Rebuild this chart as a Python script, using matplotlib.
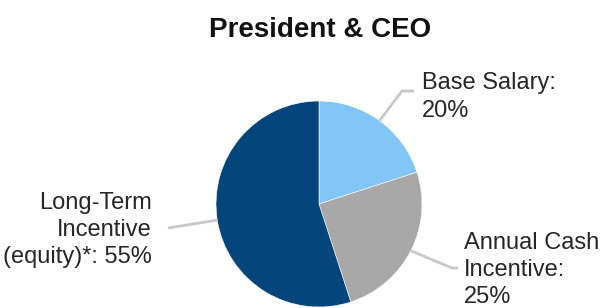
import matplotlib
matplotlib.use('agg')
import matplotlib.pyplot as plt
import numpy as np

# Pay mix data
labels = ['Base Salary:\n20%', 'Annual Cash\nIncentive:\n25%', 'Long-Term\nIncentive\n(equity)*: 55%']
values = [20, 25, 55]
colors = ['#82C6F7', '#A8A8A8', '#04467B']
title = 'President & CEO'

W, H = 603, 308
plt.rcParams['font.family'] = ['Liberation Sans', 'DejaVu Sans']

fig = plt.figure(figsize=(W / 100, H / 100), dpi=100)
ax = fig.add_axes([0, 0, 1, 1])

# pie in pixel-like coordinates (y measured up from bottom)
cx, cy, r = 319, H - 204, 103
wedges, _ = ax.pie(values, colors=colors, startangle=90, counterclock=False,
                   center=(cx, cy), radius=r, frame=True,
                   wedgeprops=dict(edgecolor='white', linewidth=0.4))
ax.set_xlim(0, W)
ax.set_ylim(0, H)
ax.set_aspect('equal')
ax.axis('off')

# leader lines start on the wedge edge at the mid angle
line_kw = dict(color='#C8C8C8', lw=2, solid_capstyle='butt')
text_kw = dict(fontsize=17, color='#262626', linespacing=1.3)

def edge_point(w):
    a = np.deg2rad((w.theta1 + w.theta2) / 2)
    return cx + r * np.cos(a), cy + r * np.sin(a)

x0, y0 = edge_point(wedges[0])
ax.plot([x0, 402, 414], [y0, H - 91, H - 91], **line_kw)
ax.text(422, H - 97, labels[0], ha='left', va='center', **text_kw)

x0, y0 = edge_point(wedges[1])
ax.plot([x0, 452, 458], [y0, H - 268, H - 268], **line_kw)
ax.text(464, H - 270, labels[1], ha='left', va='center', **text_kw)

x0, y0 = edge_point(wedges[2])
ax.plot([x0, 168], [y0, H - 228], **line_kw)
ax.text(152, H - 230, labels[2], ha='right', va='center', multialignment='right', **text_kw)

ax.text(320, H - 30, title, ha='center', va='center', fontsize=20,
        fontweight='bold', color='#111111')

fig.savefig('out.png', dpi=100)
